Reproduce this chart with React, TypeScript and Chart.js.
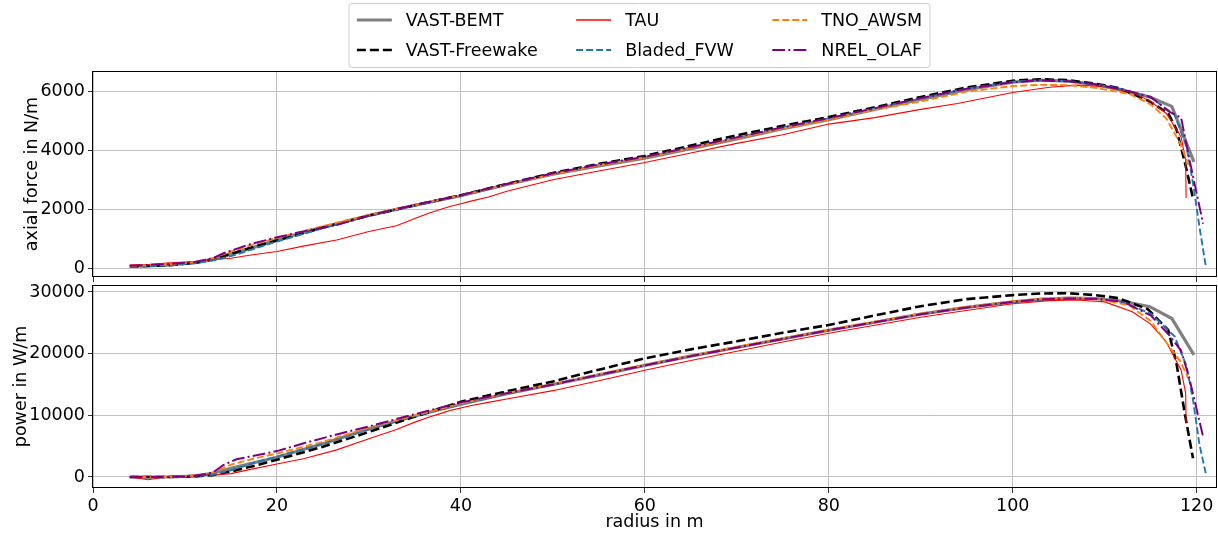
import React, { useEffect, useRef } from "react";
import { Chart, registerables } from "chart.js";

Chart.register(...registerables);

const FONT = "'DejaVu Sans', sans-serif";
const FS = 17.5;

// ---- tick labels ----
const xTicks = [0, 20, 40, 60, 80, 100, 120];
const axialTicks = [0, 2000, 4000, 6000];
const powerTicks = [0, 10000, 20000, 30000];

const seriesNames = ["VAST-BEMT", "VAST-Freewake", "TAU", "Bladed_FVW", "TNO_AWSM", "NREL_OLAF"];

// ---- VAST-BEMT ----
const radiusBEMT = [4, 8, 11, 13, 15, 17.5, 20, 25, 30, 35, 40, 45, 50, 55, 60, 65, 70, 75, 80, 85, 90, 95, 100, 103, 106, 109, 112, 114.9, 117.3, 119.7];
const axialBEMT = [60, 100, 180, 300, 470, 700, 960, 1380, 1780, 2130, 2450, 2830, 3180, 3460, 3720, 4050, 4380, 4720, 5030, 5380, 5720, 6050, 6300, 6370, 6340, 6220, 6020, 5800, 5480, 3600];
const powerBEMT = [0, 0, 150, 600, 1400, 2300, 3200, 5400, 7800, 9900, 11800, 13500, 15000, 16500, 18100, 19600, 21000, 22400, 23800, 25100, 26400, 27500, 28400, 28800, 29000, 28950, 28500, 27620, 25700, 19800];

// ---- VAST-Freewake ----
const radiusFW = [4, 8, 11, 13, 15, 17.5, 20, 25, 30, 35, 40, 45, 50, 55, 60, 65, 70, 75, 80, 85, 90, 95, 100, 103, 106, 109, 111.5, 114.7, 116.9, 117.8, 118.7, 119.6];
const axialFW = [50, 90, 170, 290, 480, 720, 930, 1370, 1780, 2130, 2470, 2850, 3220, 3530, 3800, 4150, 4500, 4820, 5120, 5450, 5800, 6120, 6350, 6400, 6370, 6250, 6100, 5680, 5250, 4700, 3600, 2360];
const powerFW = [0, 0, 100, 300, 900, 1800, 2800, 4900, 7300, 9800, 12200, 13900, 15500, 17400, 19250, 20700, 22000, 23400, 24650, 26200, 27700, 28850, 29500, 29750, 29800, 29500, 29000, 27200, 23840, 18440, 10330, 3030];

// ---- TAU ----
const radiusTAU = [4, 6, 8, 11, 13, 15, 17, 20, 23, 26.5, 30, 33, 35, 36.5, 38, 39, 40, 41, 43, 45, 50, 55, 60, 65, 70, 75, 80, 85, 90, 94, 100, 104, 107, 110, 113, 115, 116.7, 118.3, 118.8, 118.85];
const axialTAU = [100, 120, 170, 215, 280, 330, 430, 560, 750, 950, 1240, 1430, 1680, 1860, 2010, 2100, 2180, 2260, 2410, 2600, 2990, 3290, 3580, 3900, 4225, 4520, 4880, 5100, 5380, 5580, 5950, 6130, 6200, 6150, 5950, 5650, 5240, 4450, 3660, 2370];
const powerTAU = [0, -450, 50, 320, 300, 550, 1200, 2100, 3000, 4400, 6200, 7700, 8900, 9700, 10400, 10850, 11200, 11550, 12100, 12650, 14000, 15600, 17300, 18900, 20400, 21900, 23300, 24600, 25900, 26800, 28100, 28600, 28700, 28400, 26800, 24800, 21900, 17350, 13600, 8700];

// ---- Bladed_FVW ----
const radiusBL = [4, 8, 11, 13, 15, 17.5, 20, 25, 30, 35, 40, 45, 50, 55, 60, 65, 70, 75, 80, 85, 90, 95, 100, 103, 106, 109, 112, 115, 117.6, 118.9, 119.6, 120.3, 121];
const axialBL = [40, 80, 160, 250, 400, 650, 900, 1350, 1770, 2120, 2450, 2830, 3190, 3500, 3760, 4090, 4420, 4760, 5070, 5410, 5750, 6080, 6320, 6370, 6340, 6230, 6060, 5780, 5200, 4110, 2870, 1400, 40];
const powerBL = [0, 0, 100, 400, 1100, 2300, 3300, 5400, 7800, 9900, 11800, 13500, 15000, 16600, 18100, 19600, 21000, 22400, 23800, 25100, 26400, 27500, 28400, 28800, 29000, 28900, 28300, 26500, 22800, 18000, 12500, 5300, 500];

// ---- TNO_AWSM ----
const radiusTNO = [4, 8, 11, 13, 15, 17.5, 20, 25, 30, 35, 40, 45, 50, 55, 60, 65, 70, 75, 80, 85, 90, 95, 100, 103, 106, 109, 112.7, 115, 116.7, 118.2, 119.1];
const axialTNO = [70, 120, 200, 330, 560, 800, 1020, 1420, 1800, 2140, 2460, 2830, 3180, 3480, 3750, 4070, 4400, 4730, 5030, 5370, 5650, 5980, 6170, 6210, 6200, 6110, 5900, 5550, 5070, 4230, 3500];
const powerTNO = [0, 0, 200, 700, 2000, 3000, 3800, 5700, 8000, 10000, 11900, 13600, 15100, 16700, 18200, 19700, 21100, 22500, 23900, 25200, 26500, 27600, 28500, 28900, 29100, 29000, 27800, 25300, 21800, 18800, 16000];

// ---- NREL_OLAF ----
const radiusOL = [4, 8, 11, 13, 14.2, 15.6, 17, 20, 23, 26.5, 30, 35, 40, 45, 50, 55, 60, 65, 70, 75, 80, 85, 90, 95, 100, 103, 106, 109, 112, 115, 117, 118.3, 119.2, 120.7];
const axialOL = [80, 130, 200, 330, 500, 650, 800, 1040, 1250, 1460, 1780, 2140, 2470, 2850, 3210, 3510, 3770, 4100, 4430, 4770, 5080, 5420, 5760, 6080, 6300, 6360, 6330, 6230, 6050, 5800, 5300, 5100, 3700, 1500];
const powerOL = [0, 0, 150, 700, 1950, 2870, 3300, 4200, 5500, 6900, 8200, 10200, 12100, 13600, 15000, 16600, 18100, 19600, 21000, 22400, 23800, 25100, 26400, 27500, 28400, 28800, 28950, 28900, 28400, 26200, 23030, 20500, 16000, 6540];

type Series = {
  label: string;
  r: number[];
  axial: number[];
  power: number[];
  color: string;
  width: number;
  dash: number[];
};

const series: Series[] = [
  { label: seriesNames[0], r: radiusBEMT, axial: axialBEMT, power: powerBEMT, color: "#808080", width: 3.2, dash: [] },
  { label: seriesNames[1], r: radiusFW, axial: axialFW, power: powerFW, color: "#000000", width: 2.6, dash: [9, 4] },
  { label: seriesNames[2], r: radiusTAU, axial: axialTAU, power: powerTAU, color: "#ff0000", width: 1.1, dash: [] },
  { label: seriesNames[3], r: radiusBL, axial: axialBL, power: powerBL, color: "#1f77b4", width: 1.9, dash: [7, 3] },
  { label: seriesNames[4], r: radiusTNO, axial: axialTNO, power: powerTNO, color: "#ff7f0e", width: 1.9, dash: [7, 3] },
  { label: seriesNames[5], r: radiusOL, axial: axialOL, power: powerOL, color: "#800080", width: 2, dash: [12.8, 3.2, 2, 3.2] },
];

const framePlugin = {
  id: "frame",
  afterDatasetsDraw(chart: any) {
    const { ctx, chartArea: a } = chart;
    ctx.save();
    ctx.strokeStyle = "#000";
    ctx.lineWidth = 1;
    ctx.setLineDash([]);
    ctx.strokeRect(Math.round(a.left) - 0.5, Math.round(a.top) + 0.5, Math.round(a.right - a.left) + 1, Math.round(a.bottom - a.top) - 1);
    ctx.restore();
  },
};

const legendPlugin = {
  id: "mplLegend",
  afterDraw(chart: any) {
    const ctx: CanvasRenderingContext2D = chart.ctx;
    ctx.save();
    ctx.font = `${FS}px ${FONT}`;
    const em = FS;
    const cols = [[0, 1], [2, 3], [4, 5]];
    const colW = cols.map((c) => Math.max(...c.map((i) => ctx.measureText(series[i].label).width)));
    const handle = 2 * em, pad = 0.8 * em, colsp = 2.2 * em, border = 0.45 * em;
    const totalW = border * 2 + cols.reduce((s, _c, i) => s + handle + pad + colW[i], 0) + colsp * 2;
    const cx = 639.5;
    const boxL = cx - totalW / 2;
    const boxT = 3.5, boxB = 67.5;
    ctx.beginPath();
    (ctx as any).roundRect(boxL, boxT, totalW, boxB - boxT, 3);
    ctx.fillStyle = "rgba(255,255,255,0.85)";
    ctx.fill();
    ctx.strokeStyle = "#cccccc";
    ctx.lineWidth = 1;
    ctx.stroke();
    const rowsY = [20, 50];
    let x = boxL + border;
    cols.forEach((c, ci) => {
      c.forEach((si, ri) => {
        const s = series[si];
        const y = rowsY[ri];
        ctx.beginPath();
        ctx.setLineDash(s.dash);
        ctx.strokeStyle = s.color;
        ctx.lineWidth = Math.max(s.width, 1.3);
        ctx.moveTo(x, y);
        ctx.lineTo(x + handle, y);
        ctx.stroke();
        ctx.setLineDash([]);
        ctx.fillStyle = "#000";
        ctx.textBaseline = "middle";
        ctx.textAlign = "left";
        ctx.fillText(s.label, x + handle + pad, y + 1);
      });
      x += handle + pad + colW[ci] + colsp;
    });
    ctx.restore();
  },
};

function makeConfig(kind: "axial" | "power"): any {
  const isTop = kind === "axial";
  const yTicks = isTop ? axialTicks : powerTicks;
  const gridOpts = { color: "#b0b0b0", lineWidth: 0.8, tickLength: 5, tickColor: "#000", drawTicks: true };
  const font = { family: FONT, size: FS };
  return {
    type: "line",
    data: {
      datasets: series.map((s, idx) => ({
        label: s.label,
        data: s.r.map((r, i) => ({ x: r, y: s[kind][i] })),
        borderColor: s.color,
        backgroundColor: s.color,
        borderWidth: s.width,
        borderDash: s.dash,
        pointRadius: 0,
        fill: false,
        tension: 0,
        order: series.length - idx,
      })),
    },
    options: {
      animation: false,
      responsive: false,
      devicePixelRatio: 1,
      events: [],
      layout: { padding: isTop ? { top: 71, right: 2, left: 0, bottom: 0 } : { top: 3, right: 2, left: 0, bottom: 0 } },
      plugins: { legend: { display: false }, tooltip: { enabled: false } },
      scales: {
        x: {
          type: "linear",
          min: 0,
          max: 122.1,
          afterBuildTicks: (s: any) => { s.ticks = xTicks.map((v) => ({ value: v })); },
          afterFit: (s: any) => {
            s.height = isTop ? 5 : 46;
            s.paddingLeft = 0;
            s.paddingRight = 0;
          },
          grid: gridOpts,
          border: { display: false },
          ticks: { display: !isTop, color: "#000", font, padding: 3, maxRotation: 0, autoSkip: false },
          title: { display: !isTop, text: "radius in m", color: "#000", font, padding: { top: 0, bottom: 1 } },
        },
        y: {
          type: "linear",
          min: isTop ? -305 : -1784,
          max: isTop ? 6680 : 31135,
          afterBuildTicks: (s: any) => { s.ticks = yTicks.map((v) => ({ value: v })); },
          afterFit: (s: any) => {
            s.width = 93;
            s.paddingTop = 0;
            s.paddingBottom = 0;
          },
          grid: gridOpts,
          border: { display: false },
          ticks: { color: "#000", font, padding: 3, callback: (v: any) => String(v) },
          title: { display: true, text: isTop ? "axial force in N/m" : "power in W/m", color: "#000", font, padding: { top: isTop ? 22 : 11, bottom: 0 } },
        },
      },
    },
    plugins: isTop ? [framePlugin, legendPlugin] : [framePlugin],
  };
}

export default function App() {
  const topRef = useRef<HTMLCanvasElement>(null);
  const botRef = useRef<HTMLCanvasElement>(null);
  useEffect(() => {
    const c1 = new Chart(topRef.current as HTMLCanvasElement, makeConfig("axial"));
    const c2 = new Chart(botRef.current as HTMLCanvasElement, makeConfig("power"));
    return () => {
      c1.destroy();
      c2.destroy();
    };
  }, []);
  return (
    <div style={{ position: "fixed", left: 0, top: 0, width: 1218, height: 534, background: "#fff" }}>
      <canvas ref={topRef} width={1218} height={282} style={{ position: "absolute", left: 0, top: 0 }} />
      <canvas ref={botRef} width={1218} height={252} style={{ position: "absolute", left: 0, top: 282 }} />
    </div>
  );
}
